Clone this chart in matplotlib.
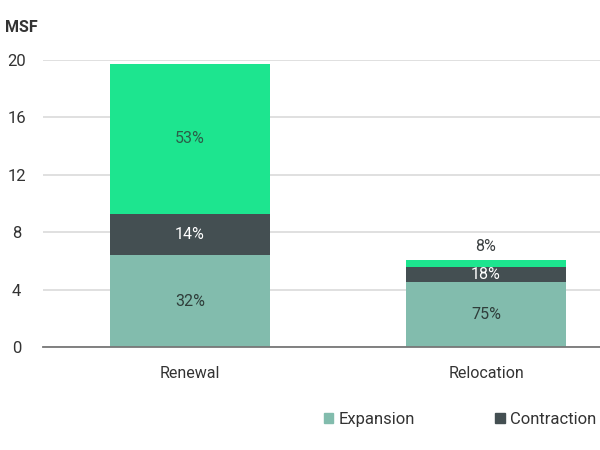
import matplotlib
matplotlib.use("Agg")
import matplotlib.pyplot as plt
from matplotlib.patches import Patch

plt.rcParams["font.family"] = ["Roboto", "DejaVu Sans"]

categories = ["Renewal", "Relocation"]
expansion = [6.4, 4.5]
contraction = [2.9, 1.05]
other = [10.4, 0.5]
exp_pct = ["32%", "75%"]
con_pct = ["14%", "18%"]
oth_pct = ["53%", "8%"]
yticks = [0, 4, 8, 12, 16, 20]

c_exp = "#82bcad"
c_con = "#444f52"
c_oth = "#1de58f"

fig = plt.figure(figsize=(6, 4.5), dpi=100)
ax = fig.add_axes([0.0717, 0.2289, 0.9283, 0.6378])

x = [0, 1]
w = 0.54
bottoms2 = [e + c for e, c in zip(expansion, contraction)]
ax.bar(x, expansion, w, color=c_exp, zorder=2)
ax.bar(x, contraction, w, bottom=expansion, color=c_con, zorder=2)
ax.bar(x, other, w, bottom=bottoms2, color=c_oth, zorder=2)

for i in x:
    ax.text(i, expansion[i] / 2, exp_pct[i], ha="center", va="center",
            fontsize=11.5, color="#2f3d3a")
    ax.text(i, expansion[i] + contraction[i] / 2, con_pct[i], ha="center",
            va="center", fontsize=11.5, color="white")
    if i == 0:
        ax.text(i, bottoms2[i] + other[i] / 2, oth_pct[i], ha="center",
                va="center", fontsize=11.5, color="#2b5e48")
    else:
        ax.text(i, bottoms2[i] + other[i] + 0.4, oth_pct[i], ha="center",
                va="bottom", fontsize=11.5, color="#3a3f40")

ax.set_xlim(-0.497, 1.385)
ax.set_ylim(0, 20)
ax.set_yticks(yticks)
ax.set_yticklabels([str(t) for t in yticks])
for lab in ax.get_yticklabels():
    lab.set_horizontalalignment("center")
ax.tick_params(axis="y", length=0, pad=19, labelsize=12, labelcolor="#333333")
ax.set_xticks(x)
ax.set_xticklabels(categories)
ax.tick_params(axis="x", length=0, pad=14, labelsize=11.5, labelcolor="#333333")

ax.grid(axis="y", color="#dddddd", linewidth=1.3, zorder=0)
for s in ["top", "right", "left"]:
    ax.spines[s].set_visible(False)
ax.spines["bottom"].set_color("#777777")
ax.spines["bottom"].set_linewidth(1.3)
ax.spines["bottom"].set_zorder(3)

fig.text(0.008, 0.94, "MSF", fontsize=11.5, fontweight="bold",
         color="#333333", va="center")

handles = [Patch(color=c_exp, label="Expansion"),
           Patch(color=c_con, label="Contraction")]
fig.legend(handles=handles, loc="center left", ncol=2,
           bbox_to_anchor=(0.54, 0.067), frameon=False, fontsize=12,
           handlelength=0.55, handleheight=0.55, handletextpad=0.3,
           columnspacing=4.85, labelcolor="#333333", borderaxespad=0,
           borderpad=0)

fig.savefig("out.png", dpi=100)
